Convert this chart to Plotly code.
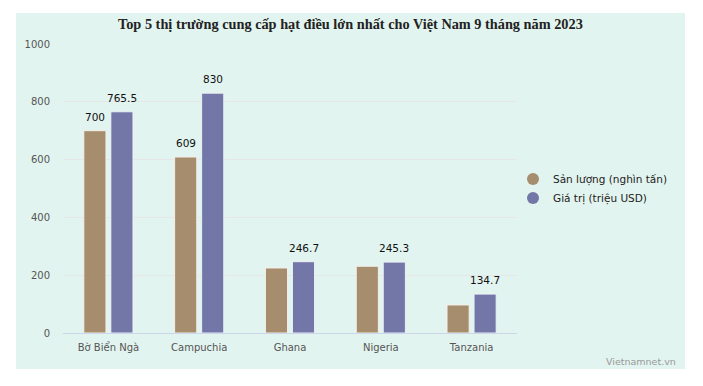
import plotly.graph_objects as go

categories = ["Bờ Biển Ngà", "Campuchia", "Ghana", "Nigeria", "Tanzania"]
san_luong = [700, 609, 225, 231, 97]
gia_tri = [765.5, 830, 246.7, 245.3, 134.7]
san_luong_labels = ["700", "609", "", "", ""]
gia_tri_labels = ["765.5", "830", "246.7", "245.3", "134.7"]
y_ticks = [0, 200, 400, 600, 800, 1000]

BROWN = "#a58d6d"
BLUE = "#7277a8"
MINT = "#e2f4ef"

OFF = 8  # page body margin
W, H = 703 - OFF, 386 - OFF
L, T = 63 - OFF, 44 - OFF
pw, ph = 454, 289
R = W - L - pw
B = H - T - ph

def px_x(xp):  # page x -> paper
    return (xp - OFF - L) / pw

def px_y(yp):  # page y -> paper
    return (H - B - (yp - OFF)) / ph

fig = go.Figure()
fig.add_trace(go.Bar(x=categories, y=san_luong, name="Sản lượng (nghìn tấn)",
                     marker=dict(color=BROWN, line=dict(color="#f4f0ea", width=1)),
                     showlegend=False))
fig.add_trace(go.Bar(x=categories, y=gia_tri, name="Giá trị (triệu USD)",
                     marker=dict(color=BLUE, line=dict(color="#eef0f6", width=1)),
                     showlegend=False))
fig.add_trace(go.Scatter(x=[None], y=[None], mode="markers", name="Sản lượng (nghìn tấn)",
                         marker=dict(color=BROWN, size=11, symbol="circle")))
fig.add_trace(go.Scatter(x=[None], y=[None], mode="markers", name="Giá trị (triệu USD)",
                         marker=dict(color=BLUE, size=11, symbol="circle")))

annotations = []
for c, v, t in zip(categories, san_luong, san_luong_labels):
    if t:
        annotations.append(dict(x=c, y=v, text=t, showarrow=False, xshift=-13.5,
                                yanchor="bottom", yshift=6,
                                font=dict(family="DejaVu Sans", size=10.5, color="#111")))
for c, v, t in zip(categories, gia_tri, gia_tri_labels):
    annotations.append(dict(x=c, y=v, text=t, showarrow=False, xshift=13.5,
                            yanchor="bottom", yshift=6,
                            font=dict(family="DejaVu Sans", size=10.5, color="#111")))
annotations.append(dict(xref="paper", yref="paper", x=px_x(678), y=px_y(361),
                        xanchor="right", yanchor="middle", showarrow=False,
                        text="Vietnamnet.vn",
                        font=dict(family="DejaVu Sans", size=9.5, color="#999999")))
annotations.append(dict(xref="paper", yref="paper", x=px_x(350), y=px_y(24),
                        xanchor="center", yanchor="middle", showarrow=False,
                        text="<b>Top 5 thị trường cung cấp hạt điều lớn nhất cho Việt Nam 9 tháng năm 2023</b>",
                        font=dict(family="Liberation Serif", size=14.3, color="#222222")))

fig.update_layout(
    width=W, height=H,
    margin=dict(l=L, r=R, t=T, b=B),
    paper_bgcolor="white",
    plot_bgcolor="rgba(0,0,0,0)",
    barmode="group",
    bargap=0.405,
    bargroupgap=0.18,
    xaxis=dict(showgrid=False, showline=True, linecolor="#ccd6eb", linewidth=1,
               ticks="", ticklabelstandoff=5,
               tickfont=dict(family="DejaVu Sans", size=10, color="#555555")),
    yaxis=dict(range=[0, 1000], tickvals=y_ticks, showgrid=True, gridcolor="#e6e6e6",
               zeroline=False, ticks="", ticklabelstandoff=12,
               tickfont=dict(family="DejaVu Sans", size=10, color="#555555")),
    legend=dict(x=(505 - L) / pw, y=(H - B - 180.5) / ph, xanchor="left", yanchor="middle",
                bgcolor="rgba(0,0,0,0)",
                font=dict(family="DejaVu Sans", size=10.5, color="#222222"),
                itemsizing="constant", tracegroupgap=0),
    annotations=annotations,
    shapes=[dict(type="rect", xref="paper", yref="paper", layer="below",
                 x0=px_x(16), x1=px_x(685), y0=px_y(369), y1=px_y(13),
                 fillcolor=MINT, line=dict(width=0))],
)

fig.write_html("out.html")
